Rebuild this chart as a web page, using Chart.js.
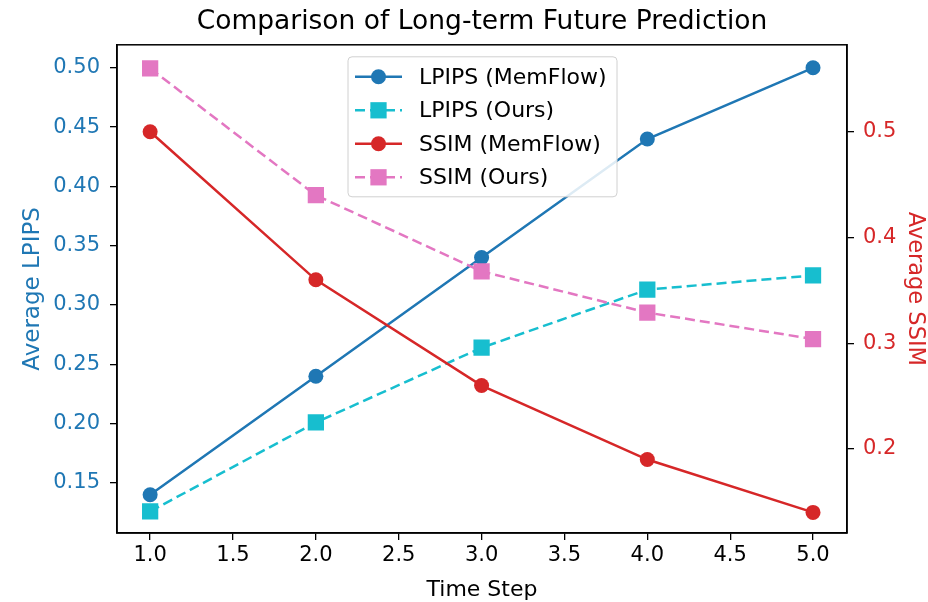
<!DOCTYPE html>
<html>
<head>
<meta charset="utf-8">
<script src="https://cdn.jsdelivr.net/npm/chart.js@4/dist/chart.umd.min.js"></script>
<style>
  html, body { margin: 0; padding: 0; background: #fff; }
  #wrap { width: 928px; height: 602px; }
</style>
</head>
<body>
<div id="wrap"><canvas id="chart" width="928" height="602"></canvas></div>
<script>
// data
const timeSteps = [1, 2, 3, 4, 5];
const lpipsMemFlow = [0.14, 0.24, 0.34, 0.44, 0.50];
const lpipsOurs = [0.126, 0.201, 0.264, 0.313, 0.325];
const ssimMemFlow = [0.50, 0.36, 0.26, 0.19, 0.14];
const ssimOurs = [0.56, 0.44, 0.368, 0.329, 0.304];
const lpipsTicks = [0.15, 0.20, 0.25, 0.30, 0.35, 0.40, 0.45, 0.50];
const ssimTicks = [0.2, 0.3, 0.4, 0.5];
const xTicks = [1.0, 1.5, 2.0, 2.5, 3.0, 3.5, 4.0, 4.5, 5.0];

const BLUE = '#1f77b4', CYAN = '#17becf', RED = '#d62728', PINK = '#e377c2';
const FONT = 'DejaVu Sans';
Chart.defaults.font.family = FONT;
Chart.defaults.color = '#000';

const pts = (ys) => timeSteps.map((x, i) => ({ x: x, y: ys[i] }));

// frame round the plot area, like matplotlib spines
const frame = {
  id: 'frame',
  afterDatasetsDraw(chart) {
    const { ctx, chartArea: a } = chart;
    ctx.save();
    ctx.strokeStyle = '#000';
    ctx.lineWidth = 1.5;
    ctx.strokeRect(a.left, a.top, a.right - a.left, a.bottom - a.top);
    ctx.restore();
  }
};

// legend drawn inside the axes (upper centre)
const innerLegend = {
  id: 'innerLegend',
  afterDraw(chart) {
    const { ctx, chartArea: a } = chart;
    const sets = chart.data.datasets;
    const boxW = 269, rowH = 33.5, boxH = 140;
    const x0 = 348;
    const y0 = a.top + 12;
    ctx.save();
    ctx.fillStyle = 'rgba(255,255,255,0.85)';
    ctx.strokeStyle = '#d0d0d0';
    ctx.lineWidth = 1;
    ctx.beginPath();
    ctx.roundRect(x0, y0, boxW, boxH, 4);
    ctx.fill();
    ctx.stroke();
    ctx.font = '22px ' + FONT;
    ctx.textBaseline = 'middle';
    sets.forEach((ds, i) => {
      const cy = y0 + 20 + i * rowH;
      ctx.strokeStyle = ds.borderColor;
      ctx.lineWidth = ds.borderWidth;
      ctx.setLineDash(ds.borderDash || []);
      ctx.beginPath();
      ctx.moveTo(x0 + 7, cy);
      ctx.lineTo(x0 + 54, cy);
      ctx.stroke();
      ctx.setLineDash([]);
      ctx.fillStyle = ds.pointBackgroundColor;
      Chart.helpers.drawPoint(ctx, {
        pointStyle: ds.pointStyle,
        radius: ds.pointRadius,
        borderWidth: 0
      }, x0 + 30.5, cy);
      ctx.fillStyle = '#000';
      ctx.fillText(ds.label, x0 + 71, cy + 1);
    });
    ctx.restore();
  }
};

const line = (label, color, data, axis, dashed, order) => ({
  label: label,
  data: pts(data),
  yAxisID: axis,
  borderColor: color,
  backgroundColor: color,
  pointBackgroundColor: color,
  pointBorderColor: color,
  pointBorderWidth: 0,
  borderWidth: 2.5,
  borderDash: dashed ? [10, 5] : [],
  pointStyle: dashed ? 'rect' : 'circle',
  pointRadius: dashed ? 11.5 : 7.5,
  tension: 0,
  order: order
});

const tickFormat = (digits) => (v) => Number(v).toFixed(digits);
const axisGrid = { drawOnChartArea: false, drawTicks: true, tickLength: 7, color: '#000', lineWidth: 1.3 };
const axisBorder = { display: true, color: '#000', width: 1.5 };

new Chart(document.getElementById('chart'), {
  type: 'line',
  data: {
    datasets: [
      line('LPIPS (MemFlow)', BLUE, lpipsMemFlow, 'yL', false, 4),
      line('LPIPS (Ours)', CYAN, lpipsOurs, 'yL', true, 3),
      line('SSIM (MemFlow)', RED, ssimMemFlow, 'yR', false, 2),
      line('SSIM (Ours)', PINK, ssimOurs, 'yR', true, 1)
    ]
  },
  options: {
    responsive: false,
    animation: false,
    devicePixelRatio: 1,
    layout: { padding: 0 },
    plugins: {
      legend: { display: false },
      tooltip: { enabled: false },
      title: {
        display: true,
        fullSize: false,
        text: 'Comparison of Long-term Future Prediction',
        color: '#000',
        font: { size: 26.5, weight: 'normal' },
        padding: { top: 6, bottom: 7 }
      }
    },
    scales: {
      x: {
        type: 'linear',
        min: 0.8,
        max: 5.205,
        afterBuildTicks: (s) => { s.ticks = xTicks.map(v => ({ value: v })); },
        afterFit: (s) => { s.height = 69; },
        ticks: { font: { size: 21 }, color: '#000', padding: 3, callback: tickFormat(1), maxRotation: 0 },
        grid: axisGrid,
        border: axisBorder,
        title: { display: true, text: 'Time Step', font: { size: 22 }, color: '#000', padding: { top: 0, bottom: -1 } }
      },
      yL: {
        type: 'linear',
        position: 'left',
        min: 0.1078,
        max: 0.5194,
        afterBuildTicks: (s) => { s.ticks = lpipsTicks.map(v => ({ value: v })); },
        afterFit: (s) => { s.width = 117; },
        ticks: { font: { size: 21 }, color: BLUE, padding: 10, callback: tickFormat(2) },
        grid: axisGrid,
        border: axisBorder,
        title: { display: true, text: 'Average LPIPS', font: { size: 23 }, color: BLUE, padding: { top: 19, bottom: 0 } }
      },
      yR: {
        type: 'linear',
        position: 'right',
        min: 0.1205,
        max: 0.5823,
        afterBuildTicks: (s) => { s.ticks = ssimTicks.map(v => ({ value: v })); },
        afterFit: (s) => { s.width = 81; },
        ticks: { font: { size: 21 }, color: RED, padding: 9, callback: tickFormat(1) },
        grid: axisGrid,
        border: axisBorder,
        title: { display: true, text: 'Average SSIM', font: { size: 22.5 }, color: RED, padding: { top: 0, bottom: 0 } }
      }
    }
  },
  plugins: [frame, innerLegend]
});
</script>
</body>
</html>
